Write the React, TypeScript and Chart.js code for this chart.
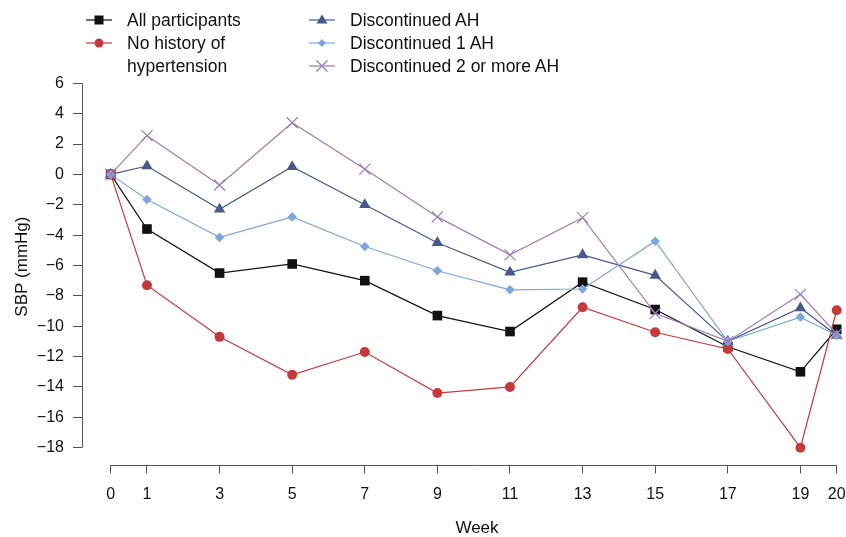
import React, { useEffect, useRef } from "react";
import { Chart, registerables } from "chart.js";

Chart.register(...registerables);

const weeks = [0, 1, 3, 5, 7, 9, 11, 13, 15, 17, 19, 20];
const allParticipants = [0, -3.6, -6.5, -5.9, -7.0, -9.3, -10.35, -7.1, -8.9, -11.35, -13.0, -10.2];
const noHistory = [0, -7.3, -10.7, -13.2, -11.7, -14.4, -14.0, -8.75, -10.4, -11.5, -18.0, -8.95];
const discontinuedAH = [0, 0.55, -2.3, 0.5, -2.0, -4.5, -6.45, -5.3, -6.65, -11.0, -8.8, -10.6];
const discontinued1AH = [0, -1.65, -4.15, -2.8, -4.75, -6.35, -7.6, -7.55, -4.4, -11.0, -9.4, -10.6];
const discontinued2AH = [0, 2.55, -0.7, 3.4, 0.35, -2.8, -5.3, -2.85, -9.15, -11.0, -7.9, -10.5];
const yTicks = [-18, -16, -14, -12, -10, -8, -6, -4, -2, 0, 2, 4, 6];
const xTicks = [0, 1, 3, 5, 7, 9, 11, 13, 15, 17, 19, 20];

const FONT = "'Liberation Sans', Arial, Helvetica, sans-serif";
const AXIS_COLOR = "#555555";

const series = [
  { label: "All participants", values: allParticipants, color: "#111111", style: "rect", radius: 6.8, order: 5 },
  { label: "No history of hypertension", values: noHistory, color: "#C43A3C", style: "circle", radius: 5, order: 4 },
  { label: "Discontinued AH", values: discontinuedAH, color: "#48578C", style: "triangle", radius: 6.6, order: 3 },
  { label: "Discontinued 1 AH", values: discontinued1AH, color: "#7FA6DA", style: "rectRot", radius: 4.8, order: 2 },
  { label: "Discontinued 2 or more AH", values: discontinued2AH, color: "#9A7BB7", style: "crossRot", radius: 7.8, order: 1 },
];

const axisLinePlugin = {
  id: "rAxisLines",
  afterDraw(chart: any) {
    const { ctx, chartArea, scales } = chart;
    const x = scales.x;
    const y = scales.y;
    ctx.save();
    ctx.strokeStyle = AXIS_COLOR;
    ctx.lineWidth = 1;
    ctx.beginPath();
    const yTop = y.getPixelForValue(yTicks[yTicks.length - 1]);
    const yBot = y.getPixelForValue(yTicks[0]);
    ctx.moveTo(Math.round(chartArea.left) + 0.5, yTop);
    ctx.lineTo(Math.round(chartArea.left) + 0.5, yBot);
    const xL = x.getPixelForValue(xTicks[0]);
    const xR = x.getPixelForValue(xTicks[xTicks.length - 1]);
    ctx.moveTo(xL, Math.round(chartArea.bottom) + 0.5);
    ctx.lineTo(xR, Math.round(chartArea.bottom) + 0.5);
    ctx.stroke();
    ctx.restore();
  },
};

function LegendMarker({ color, style }: { color: string; style: string }) {
  const cx = 13;
  const cy = 7;
  let shape: React.ReactNode = null;
  if (style === "rect") shape = <rect x={cx - 4.5} y={cy - 4.5} width={9} height={9} fill={color} />;
  if (style === "circle") shape = <circle cx={cx} cy={cy} r={4.5} fill={color} />;
  if (style === "triangle")
    shape = <polygon points={`${cx},${cy - 5.5} ${cx + 5.5},${cy + 3.5} ${cx - 5.5},${cy + 3.5}`} fill={color} />;
  if (style === "rectRot")
    shape = <polygon points={`${cx},${cy - 4} ${cx + 4},${cy} ${cx},${cy + 4} ${cx - 4},${cy}`} fill={color} />;
  if (style === "crossRot")
    shape = (
      <g stroke={color} strokeWidth={1.2}>
        <line x1={cx - 5.5} y1={cy - 5.5} x2={cx + 5.5} y2={cy + 5.5} />
        <line x1={cx - 5.5} y1={cy + 5.5} x2={cx + 5.5} y2={cy - 5.5} />
      </g>
    );
  return (
    <svg width={26} height={14} style={{ position: "absolute", left: 0, top: 0 }}>
      <line x1={0} y1={cy} x2={26} y2={cy} stroke={color} strokeWidth={1.2} />
      {shape}
    </svg>
  );
}

export default function App() {
  const canvasRef = useRef<HTMLCanvasElement | null>(null);

  useEffect(() => {
    document.body.style.margin = "0";
    const canvas = canvasRef.current;
    if (!canvas) return;
    const chart = new Chart(canvas, {
      type: "line",
      data: {
        datasets: series.map((s) => ({
          label: s.label,
          data: weeks.map((w, i) => ({ x: w, y: s.values[i] })),
          borderColor: s.color,
          backgroundColor: s.color,
          pointBackgroundColor: s.color,
          pointBorderColor: s.color,
          pointStyle: s.style as any,
          pointRadius: s.radius,
          pointBorderWidth: s.style === "crossRot" ? 1.2 : 0,
          borderWidth: 1.2,
          tension: 0,
          fill: false,
          clip: false as any,
          order: s.order,
        })),
      },
      plugins: [axisLinePlugin],
      options: {
        responsive: false,
        animation: false,
        devicePixelRatio: 1,
        layout: { padding: { top: 68.7, right: 0, bottom: 0, left: 0 }, autoPadding: false } as any,
        plugins: { legend: { display: false }, tooltip: { enabled: false } },
        scales: {
          x: {
            type: "linear",
            min: -0.79,
            max: 20.256,
            afterFit: (scale: any) => {
              scale.height = 72.5;
              scale.paddingLeft = 0;
              scale.paddingRight = 0;
            },
            afterBuildTicks: (scale: any) => {
              scale.ticks = xTicks.map((v) => ({ value: v }));
            },
            border: { display: false },
            grid: { drawOnChartArea: false, drawTicks: true, tickLength: 9, color: AXIS_COLOR, lineWidth: 1 },
            ticks: {
              autoSkip: false,
              maxRotation: 0,
              padding: 11,
              color: "#111111",
              font: { family: FONT, size: 16 },
              callback: (v: any) => String(v),
            },
            title: { display: false },
          },
          y: {
            type: "linear",
            min: -19.107,
            max: 6.96,
            afterFit: (scale: any) => {
              scale.width = 82;
              scale.paddingTop = 0;
              scale.paddingBottom = 0;
            },
            afterBuildTicks: (scale: any) => {
              scale.ticks = yTicks.map((v) => ({ value: v }));
            },
            border: { display: false },
            grid: { drawOnChartArea: false, drawTicks: true, tickLength: 9, color: AXIS_COLOR, lineWidth: 1 },
            ticks: {
              autoSkip: false,
              padding: 9,
              color: "#111111",
              font: { family: FONT, size: 16 },
              callback: (v: any) => (Number(v) < 0 ? "\u2212" + Math.abs(Number(v)) : String(v)),
            },
            title: {
              display: true,
              text: "SBP (mmHg)",
              color: "#111111",
              font: { family: FONT, size: 17 },
              padding: { top: 12, bottom: 0 },
            },
          },
        },
      },
    });
    return () => chart.destroy();
  }, []);

  const legendRows = [
    { col: 0, row: 0, s: series[0], lines: ["All participants"] },
    { col: 0, row: 1, s: series[1], lines: ["No history of", "hypertension"] },
    { col: 1, row: 0, s: series[2], lines: ["Discontinued AH"] },
    { col: 1, row: 1, s: series[3], lines: ["Discontinued 1 AH"] },
    { col: 1, row: 2, s: series[4], lines: ["Discontinued 2 or more AH"] },
  ];
  const colX = [86, 309];
  const rowY = [20, 43, 66];
  const lineH = 23;

  return (
    <div style={{ position: "relative", width: 846, height: 537, overflow: "hidden", background: "#ffffff" }}>
      <canvas ref={canvasRef} width={846} height={537} style={{ display: "block", width: 846, height: 537 }} />
      <div
        style={{
          position: "absolute",
          left: 377,
          width: 200,
          top: 517,
          height: 22,
          lineHeight: "22px",
          textAlign: "center",
          fontFamily: FONT,
          fontSize: 17,
          color: "#111111",
        }}
      >
        Week
      </div>
      {legendRows.map((r, i) => (
        <div key={i}>
          <div style={{ position: "absolute", left: colX[r.col], top: rowY[r.row] - 7, width: 26, height: 14 }}>
            <LegendMarker color={r.s.color} style={r.s.style} />
          </div>
          {r.lines.map((t, j) => (
            <div
              key={j}
              style={{
                position: "absolute",
                left: colX[r.col] + 41,
                top: rowY[r.row] + j * lineH - 11,
                height: 22,
                lineHeight: "22px",
                fontFamily: FONT,
                fontSize: 17.5,
                color: "#111111",
                whiteSpace: "nowrap",
              }}
            >
              {t}
            </div>
          ))}
        </div>
      ))}
    </div>
  );
}
